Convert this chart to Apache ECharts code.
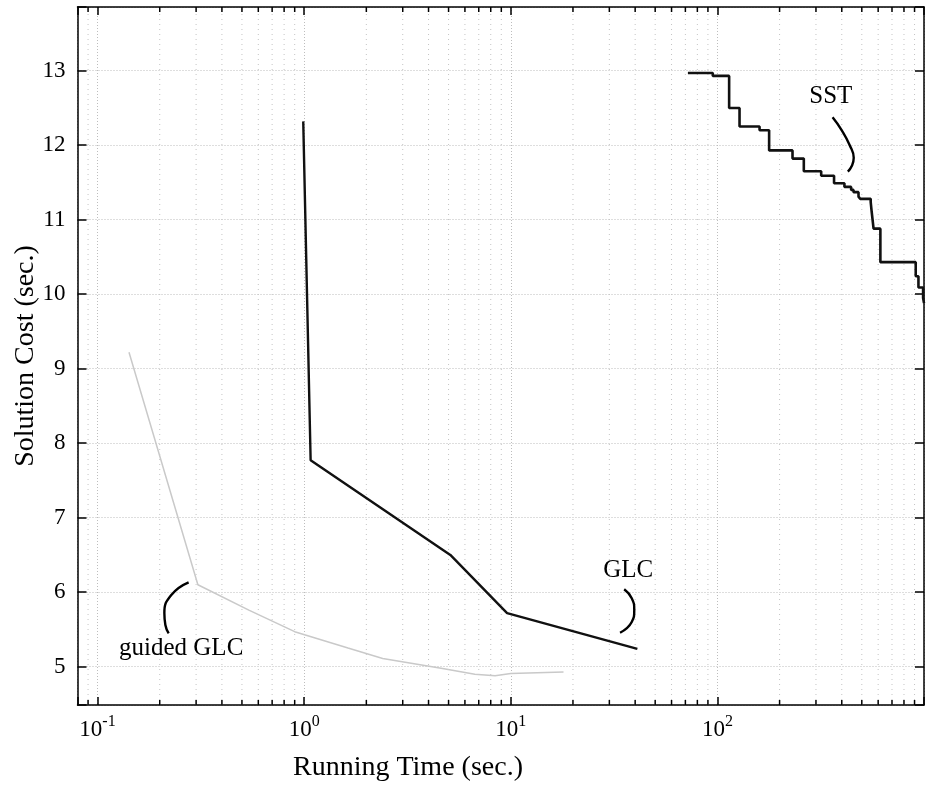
<!DOCTYPE html>
<html>
<head>
<meta charset="utf-8">
<script src="https://cdn.jsdelivr.net/npm/echarts@6/dist/echarts.min.js"></script>
<style>
  html, body { margin: 0; padding: 0; background: #fff; }
  #chart { width: 932px; height: 792px; }
</style>
</head>
<body>
<div id="chart"></div>
<script>
const serif = '"Liberation Serif", "DejaVu Serif", serif';

// axis ranges (x is log10)
const xRange = [0.08, 1000];
const yRange = [4.486, 13.855];

// minor decade positions for the dotted grid and the small ticks
const minorTicksX = [0.09, 0.2, 0.3, 0.4, 0.5, 0.6, 0.7, 0.8, 0.9,
  2, 3, 4, 5, 6, 7, 8, 9, 20, 30, 40, 50, 60, 70, 80, 90,
  200, 300, 400, 500, 600, 700, 800, 900];

// series: [running time, solution cost]
const glc = [[0.99, 12.32], [1.075, 7.77], [5.1, 6.5], [9.6, 5.72], [41, 5.24]];

const guidedGlc = [[0.142, 9.22], [0.306, 6.1], [0.54, 5.76], [0.9, 5.47], [1.63, 5.25],
  [2.4, 5.11], [4.6, 4.98], [6.7, 4.9], [8.4, 4.88], [10, 4.91], [18, 4.93]];

const sst = [[72, 12.97], [95, 12.93], [114, 12.5], [128, 12.25], [160, 12.2], [178, 11.93],
  [231, 11.82], [262, 11.65], [318, 11.59], [367, 11.49], [412, 11.44], [444, 11.4],
  [456, 11.37], [482, 11.31], [491, 11.28], [552, 11.24], [558, 11.11], [570, 10.88],
  [615, 10.43], [912, 10.24], [940, 10.09], [990, 9.95], [1000, 9.88]];

// annotation labels and their hand-drawn leader strokes
const annotations = [[354, 12.65, 'SST'], [37, 6.29, 'GLC'], [0.254, 5.25, 'guided GLC']];
const sstLeader = [[361, 12.375], [400, 12.2], [437, 12.0], [457, 11.83], [447, 11.72], [428, 11.645]];
const glcLeader = [[35.4, 6.04], [38.5, 5.92], [39.6, 5.76], [38.5, 5.6], [33.8, 5.456]];
const guidedLeader = [[0.276, 6.133], [0.2276, 5.963], [0.2106, 5.721], [0.213, 5.56], [0.221, 5.448]];

const axisColor = '#000';

function decadeLabel(value) {
  const e = Math.round(Math.log10(value));
  if (e >= 3) return '';
  if (Math.abs(value - Math.pow(10, e)) > 1e-6 * Math.pow(10, e)) return '';
  return '{b|10}{s|' + e + '}';
}

function renderMinorX(params, api) {
  const x = api.value(0);
  const lo = api.coord([x, yRange[0]]);
  const hi = api.coord([x, yRange[1]]);
  return {
    type: 'group',
    children: [
      { type: 'line', shape: { x1: lo[0], y1: lo[1], x2: hi[0], y2: hi[1] },
        style: { stroke: '#c4c4c4', lineWidth: 1, lineDash: [1, 4] } },
      { type: 'line', shape: { x1: lo[0], y1: lo[1], x2: lo[0], y2: lo[1] - 5 },
        style: { stroke: axisColor, lineWidth: 1.5 } },
      { type: 'line', shape: { x1: hi[0], y1: hi[1], x2: hi[0], y2: hi[1] + 5 },
        style: { stroke: axisColor, lineWidth: 1.5 } }
    ]
  };
}

// annotation text placed at its data position
function renderNote(params, api) {
  const p = api.coord([api.value(0), api.value(1)]);
  return {
    type: 'text', x: p[0], y: p[1],
    style: {
      text: annotations[params.dataIndex][2],
      font: '25px ' + serif, fill: '#000', align: 'center', verticalAlign: 'middle'
    }
  };
}

const leaderStyle = { color: '#000', width: 2.4 };
function leaderSeries(data) {
  return {
    type: 'line', data, smooth: 0.5, symbol: 'none', silent: true,
    lineStyle: leaderStyle, z: 4
  };
}

const chart = echarts.init(document.getElementById('chart'));

const xAxisBase = {
  type: 'log', logBase: 10, min: xRange[0], max: xRange[1],
  axisLine: { show: true, onZero: false, lineStyle: { color: axisColor, width: 1.5 } },
  axisTick: { show: true, inside: true, length: 8, lineStyle: { color: axisColor, width: 1.5 } },
  minorTick: { show: false },
};

chart.setOption({
  animation: false,
  backgroundColor: '#fff',
  grid: { left: 77.5, right: 8, top: 7, bottom: 87, containLabel: false },
  xAxis: [
    {
      ...xAxisBase,
      position: 'bottom',
      axisLabel: {
        formatter: decadeLabel,
        margin: 9,
        color: '#000',
        rich: {
          b: { fontFamily: serif, fontSize: 23, color: '#000', padding: [4, 0, 0, 0] },
          s: { fontFamily: serif, fontSize: 16, color: '#000', verticalAlign: 'top' }
        }
      },
      splitLine: { show: true, lineStyle: { color: '#bdbdbd', width: 1, type: [1, 2] } }
    },
    {
      ...xAxisBase,
      position: 'top',
      axisLabel: { show: false },
      splitLine: { show: false }
    }
  ],
  yAxis: [
    {
      type: 'value', min: yRange[0], max: yRange[1], splitNumber: 9,
      position: 'left',
      axisLine: { show: true, onZero: false, lineStyle: { color: axisColor, width: 1.5 } },
      axisTick: { show: true, inside: true, length: 9, lineStyle: { color: axisColor, width: 1.5 } },
      axisLabel: {
        formatter: v => (Math.abs(v - Math.round(v)) < 1e-6 ? String(Math.round(v)) : ''),
        fontFamily: serif, fontSize: 23, color: '#000', margin: 12
      },
      splitLine: { show: true, lineStyle: { color: '#bdbdbd', width: 1, type: [1, 2] } }
    },
    {
      type: 'value', min: yRange[0], max: yRange[1], splitNumber: 9,
      position: 'right',
      axisLine: { show: true, onZero: false, lineStyle: { color: axisColor, width: 1.5 } },
      axisTick: { show: true, inside: true, length: 9, lineStyle: { color: axisColor, width: 1.5 } },
      axisLabel: { show: false },
      splitLine: { show: false }
    }
  ],
  graphic: [
    { type: 'text', x: 408, y: 768, silent: true,
      style: { text: 'Running Time (sec.)', font: '28px ' + serif, fill: '#000', align: 'center', verticalAlign: 'middle' } },
    { type: 'text', x: 26, y: 356, rotation: Math.PI / 2, silent: true,
      style: { text: 'Solution Cost (sec.)', font: '28px ' + serif, fill: '#000', align: 'center', verticalAlign: 'middle' } }
  ],
  series: [
    {
      type: 'custom', silent: true, z: 1,
      data: minorTicksX.map(v => [v, yRange[0]]),
      encode: { x: 0, y: 1 },
      renderItem: renderMinorX
    },
    {
      name: 'guided GLC', type: 'line', data: guidedGlc, symbol: 'none', silent: true, z: 3,
      lineStyle: { color: '#c9c9c9', width: 1.5 }
    },
    {
      name: 'GLC', type: 'line', data: glc, symbol: 'none', silent: true, z: 3,
      lineStyle: { color: '#111', width: 2.4 }
    },
    {
      name: 'SST', type: 'line', data: sst, step: 'end', symbol: 'none', silent: true, z: 3,
      lineStyle: { color: '#111', width: 2.6 }
    },
    leaderSeries(sstLeader),
    leaderSeries(glcLeader),
    leaderSeries(guidedLeader),
    {
      type: 'custom', silent: true, z: 5,
      data: annotations.map(a => [a[0], a[1]]),
      encode: { x: 0, y: 1 },
      renderItem: renderNote
    }
  ]
});
</script>
</body>
</html>
